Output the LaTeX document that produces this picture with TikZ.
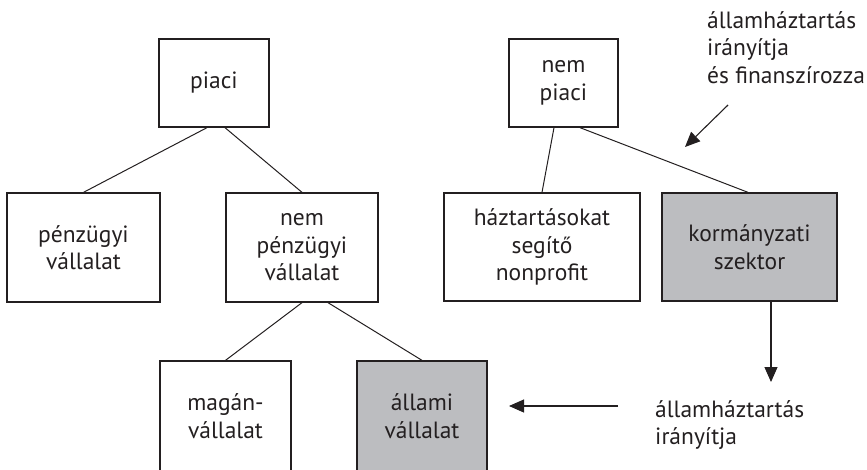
\documentclass[tikz,border=0pt]{standalone}
\usepackage{fontspec}
\setmainfont{PT Sans}
\usetikzlibrary{arrows.meta}
\definecolor{ink}{RGB}{35,31,32}
\definecolor{boxgray}{RGB}{188,189,192}
\begin{document}
\begin{tikzpicture}[x=1pt,y=-1pt,
  font=\fontsize{23.5}{27.5}\selectfont,
  box/.style={draw=ink, line width=1.3pt, rectangle, inner sep=0pt, align=center, text=ink},
  shaded/.style={box, fill=boxgray},
  link/.style={draw=ink, line width=1pt},
  arr/.style={draw=ink, line width=1.1pt, -{Triangle[length=15pt,width=13pt]}},
  lbl/.style={anchor=base west, inner sep=0pt, text=ink}]
\useasboundingbox (0,0) rectangle (867,469);
% boxes
\node[box, minimum width=110pt, minimum height=88pt] (piaci) at (214,83) {piaci};
\node[box, minimum width=109pt, minimum height=88pt] (nempiaci) at (563.5,83) {nem\\piaci};
\node[box, minimum width=153pt, minimum height=109pt] (penz) at (83.5,247.5) {pénzügyi\\vállalat};
\node[box, minimum width=152pt, minimum height=109pt] (nempenz) at (302,247.5) {nem\\pénzügyi\\vállalat};
\node[box, minimum width=196pt, minimum height=108pt] (haztart) at (542,247) {háztartásokat\\segítő\\nonprofit};
\node[shaded, minimum width=175pt, minimum height=108pt] (korm) at (749.5,247) {kormányzati\\szektor};
\node[box, minimum width=131pt, minimum height=110pt] (magan) at (225.5,416) {magán-\\vállalat};
\node[shaded, minimum width=130pt, minimum height=110pt] (allami) at (422,416) {állami\\vállalat};
% tree links
\draw[link] ([xshift=-7pt]piaci.south) -- (penz.north);
\draw[link] ([xshift=11pt]piaci.south) -- (nempenz.north);
\draw[link] (nempenz.south) -- (magan.north);
\draw[link] ([xshift=26pt]nempenz.south) -- (allami.north);
\draw[link] ([xshift=-9.5pt]nempiaci.south) -- (haztart.north);
\draw[link] ([xshift=16.5pt]nempiaci.south) -- ([xshift=-1.5pt]korm.north);
% labels
\node[lbl] (t1a) at (707,28) {államháztartás};
\node[lbl] (t1b) at (707,55.5) {irányítja};
\node[lbl] (t1c) at (707,83) {és finanszírozza};
\node[lbl] (t2a) at (655,417) {államháztartás};
\node[lbl] (t2b) at (655,444.5) {irányítja};
% arrows
\coordinate (d1) at (728,105);
\coordinate (d2) at (685,147);
\draw[arr] (d1) -- (d2);
\coordinate (v2) at (771,382);
\draw[arr] ([xshift=21.5pt]korm.south) -- (v2);
\coordinate (h1) at (618,406);
\coordinate (h2) at (509,406);
\draw[arr] (h1) -- (h2);
\end{tikzpicture}
\end{document}
